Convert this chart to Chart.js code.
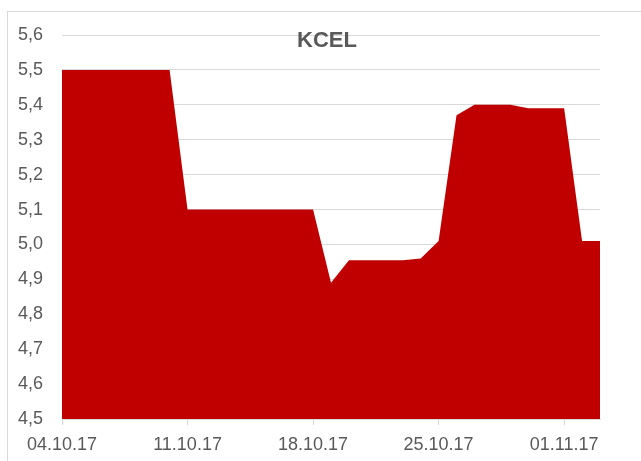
<!DOCTYPE html>
<html>
<head>
<meta charset="utf-8">
<script src="https://cdn.jsdelivr.net/npm/chart.js@4"></script>
<style>
  body { margin: 0; background: #fff; }
  canvas { display: block; }
</style>
</head>
<body>
<canvas id="kcel-chart" width="641" height="461"></canvas>
<script>
const chartTitle = 'KCEL';

const dates = [
    '04.10.17', '05.10.17', '06.10.17', '07.10.17', '08.10.17', '09.10.17', '10.10.17',
    '11.10.17', '12.10.17', '13.10.17', '14.10.17', '15.10.17', '16.10.17', '17.10.17',
    '18.10.17', '19.10.17', '20.10.17', '21.10.17', '22.10.17', '23.10.17', '24.10.17',
    '25.10.17', '26.10.17', '27.10.17', '28.10.17', '29.10.17', '30.10.17', '31.10.17',
    '01.11.17', '02.11.17', '03.11.17'
];

const prices = [
    5.5, 5.5, 5.5, 5.5, 5.5, 5.5, 5.5,
    5.1, 5.1, 5.1, 5.1, 5.1, 5.1, 5.1,
    5.1, 4.89, 4.955, 4.955, 4.955, 4.955, 4.96,
    5.01, 5.37, 5.4, 5.4, 5.4, 5.39, 5.39,
    5.39, 5.01, 5.01
];

const yMin = 4.5;
const yMax = 5.6;
const yStep = 0.1;
const labelEvery = 7;

const textColor = '#595959';
const gridColor = '#d9d9d9';

Chart.defaults.font.family = "'Liberation Sans Narrow', 'Arial Narrow', 'Liberation Sans', Arial, sans-serif";
Chart.defaults.font.size = 18;
Chart.defaults.color = textColor;

// frame round the chart and the title laid over the plot, like Excel does
const frameAndTitle = {
    id: 'frameAndTitle',
    beforeDraw(chart) {
        const ctx = chart.ctx;
        ctx.save();
        ctx.strokeStyle = gridColor;
        ctx.lineWidth = 1;
        ctx.strokeRect(7.5, 11.5, 700, 500);
        ctx.restore();
    },
    afterDraw(chart) {
        const ctx = chart.ctx;
        ctx.save();
        ctx.font = "bold 22px 'Liberation Sans Narrow', 'Arial Narrow', 'Liberation Sans', Arial, sans-serif";
        ctx.fillStyle = textColor;
        ctx.textAlign = 'center';
        ctx.textBaseline = 'middle';
        ctx.fillText(chartTitle, 327, 41);
        ctx.restore();
    }
};

new Chart(document.getElementById('kcel-chart'), {
    type: 'line',
    data: {
        labels: dates,
        datasets: [{
            label: chartTitle,
            data: prices,
            fill: 'start',
            backgroundColor: '#c00000',
            borderWidth: 0,
            pointRadius: 0,
            tension: 0
        }]
    },
    options: {
        responsive: false,
        animation: false,
        layout: {
            padding: {left: 0, right: 41, top: 35, bottom: 0}
        },
        plugins: {
            legend: {display: false},
            title: {display: false},
            tooltip: {enabled: false}
        },
        scales: {
            x: {
                type: 'category',
                offset: false,
                afterFit: scale => { scale.height = 42; },
                grid: {
                    drawOnChartArea: false,
                    drawTicks: true,
                    tickLength: 6,
                    color: gridColor
                },
                border: {color: gridColor},
                ticks: {
                    autoSkip: false,
                    maxRotation: 0,
                    padding: 9,
                    callback: function (value, index) {
                        return index % labelEvery === 0 ? this.getLabelForValue(value) : null;
                    }
                }
            },
            y: {
                min: yMin,
                max: yMax,
                afterFit: scale => { scale.width = 62; },
                grid: {
                    color: gridColor,
                    drawTicks: false
                },
                border: {display: false},
                ticks: {
                    stepSize: yStep,
                    padding: 19,
                    callback: value => value.toFixed(1).replace('.', ',')
                }
            }
        }
    },
    plugins: [frameAndTitle]
});
</script>
</body>
</html>
